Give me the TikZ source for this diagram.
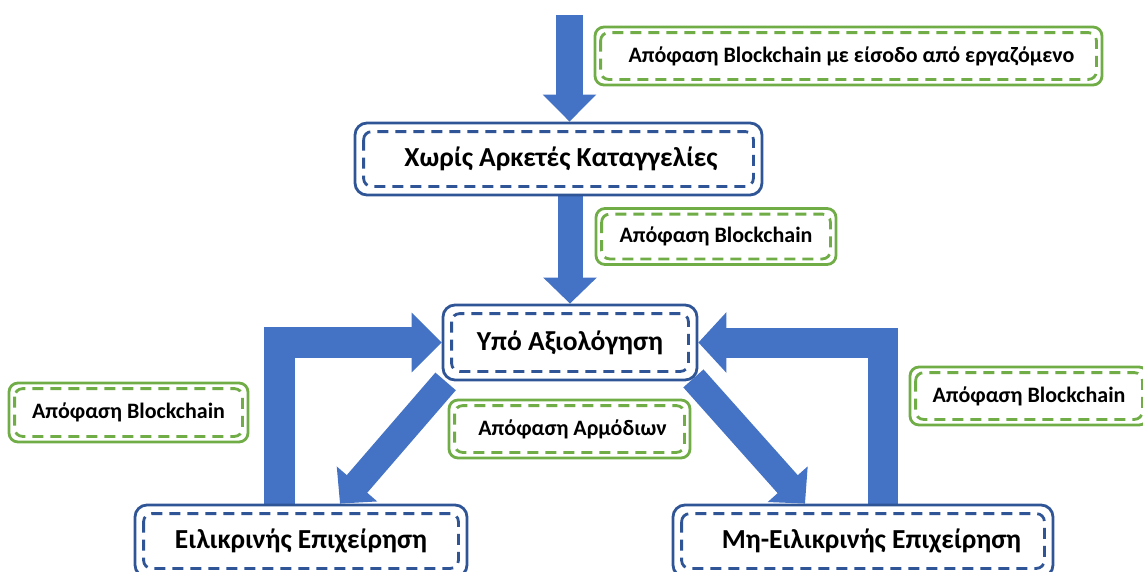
\documentclass[tikz,border=0pt]{standalone}
\usepackage{fontspec}
\setmainfont{Carlito}
\usetikzlibrary{arrows.meta}
\definecolor{arrowblue}{HTML}{4472C4}
\definecolor{boxblue}{HTML}{2F5597}
\definecolor{boxgreen}{HTML}{70AD47}
\pgfdeclarelayer{back}
\pgfsetlayers{back,main}

\begin{document}
\begin{tikzpicture}[x=1pt,y=-1pt,
  statebox/.style={draw=boxblue, line width=2.8pt, rounded corners=12pt, fill=white,
    font=\fontsize{27.5}{30}\selectfont\bfseries, inner sep=0pt},
  notebox/.style={draw=boxgreen, line width=2.8pt, rounded corners=9pt, fill=white,
    font=\fontsize{22}{26}\selectfont\bfseries, inner sep=0pt},
  innerdash/.style={line width=2.8pt, dash pattern=on 11pt off 7pt, rounded corners=8pt},
  blockarrow/.style args={#1/#2/#3}{draw=arrowblue, line width=#1, line join=miter,
    -{Triangle[length=#2,width=#3]}}
]
\path[use as bounding box, clip] (0,0) rectangle (1143,571);

% states
\node[statebox, minimum width=407pt, minimum height=72pt] (b1) at (558.5,159) {\hspace{5pt}Χωρίς Αρκετές Καταγγελίες};
\node[statebox, minimum width=254pt, minimum height=75pt] (b2) at (570,342.5) {Υπό Αξιολόγηση};
\node[statebox, minimum width=332pt, minimum height=72pt] (b3) at (301,541) {Ειλικρινής Επιχείρηση};
\node[statebox, minimum width=380pt, minimum height=72pt] (b4) at (863,541) {\hspace{17pt}Μη-Ειλικρινής Επιχείρηση};

% decision notes
\node[notebox, minimum width=507pt, minimum height=58pt] (g1) at (848.5,56) {\hspace{6pt}Απόφαση Blockchain με είσοδο από εργαζόμενο};
\node[notebox, minimum width=240pt, minimum height=56pt] (g2) at (716,236.5) {Απόφαση Blockchain};
\node[notebox, minimum width=239pt, minimum height=59pt] (g3) at (128.5,412.5) {Απόφαση Blockchain};
\node[notebox, minimum width=241pt, minimum height=58pt] (g4) at (569.5,429) {\hspace{6pt}Απόφαση Αρμόδιων};
\node[notebox, minimum width=238pt, minimum height=58pt] (g5) at (1029,396) {Απόφαση Blockchain};

% inner dashed outlines
\foreach \n/\c/\d in {b1/boxblue/10pt, b2/boxblue/10pt, b3/boxblue/10pt, b4/boxblue/10pt,
                      g1/boxgreen/7pt, g2/boxgreen/7pt, g3/boxgreen/7pt, g4/boxgreen/7pt, g5/boxgreen/7pt}
  \draw[innerdash, draw=\c] ([shift={(\d,-\d)}]\n.north west) rectangle ([shift={(-\d,\d)}]\n.south east);

% transitions
\coordinate (entry) at (569.5,15);
\begin{pgfonlayer}{back}
  \draw[blockarrow=27pt/27pt/52pt] (entry) -- (entry |- b1.north);
  \draw[blockarrow=25pt/26pt/52pt] (b2.north |- b1.south) -- (b2.north);
  \draw[blockarrow=31pt/30pt/58pt] ([xshift=-21.5pt]b3.north) |- (b2.west);
  \draw[blockarrow=30pt/28pt/59pt] ([xshift=20pt]b4.north) |- (b2.east);
  \draw[blockarrow=27pt/26pt/52pt] ([xshift=4pt]b2.south west) -- ([xshift=39pt]b3.north);
  \draw[blockarrow=27pt/26pt/52pt] ([shift={(-5pt,3pt)}]b2.south east) -- ([xshift=-58pt]b4.north);
\end{pgfonlayer}
\end{tikzpicture}
\end{document}
